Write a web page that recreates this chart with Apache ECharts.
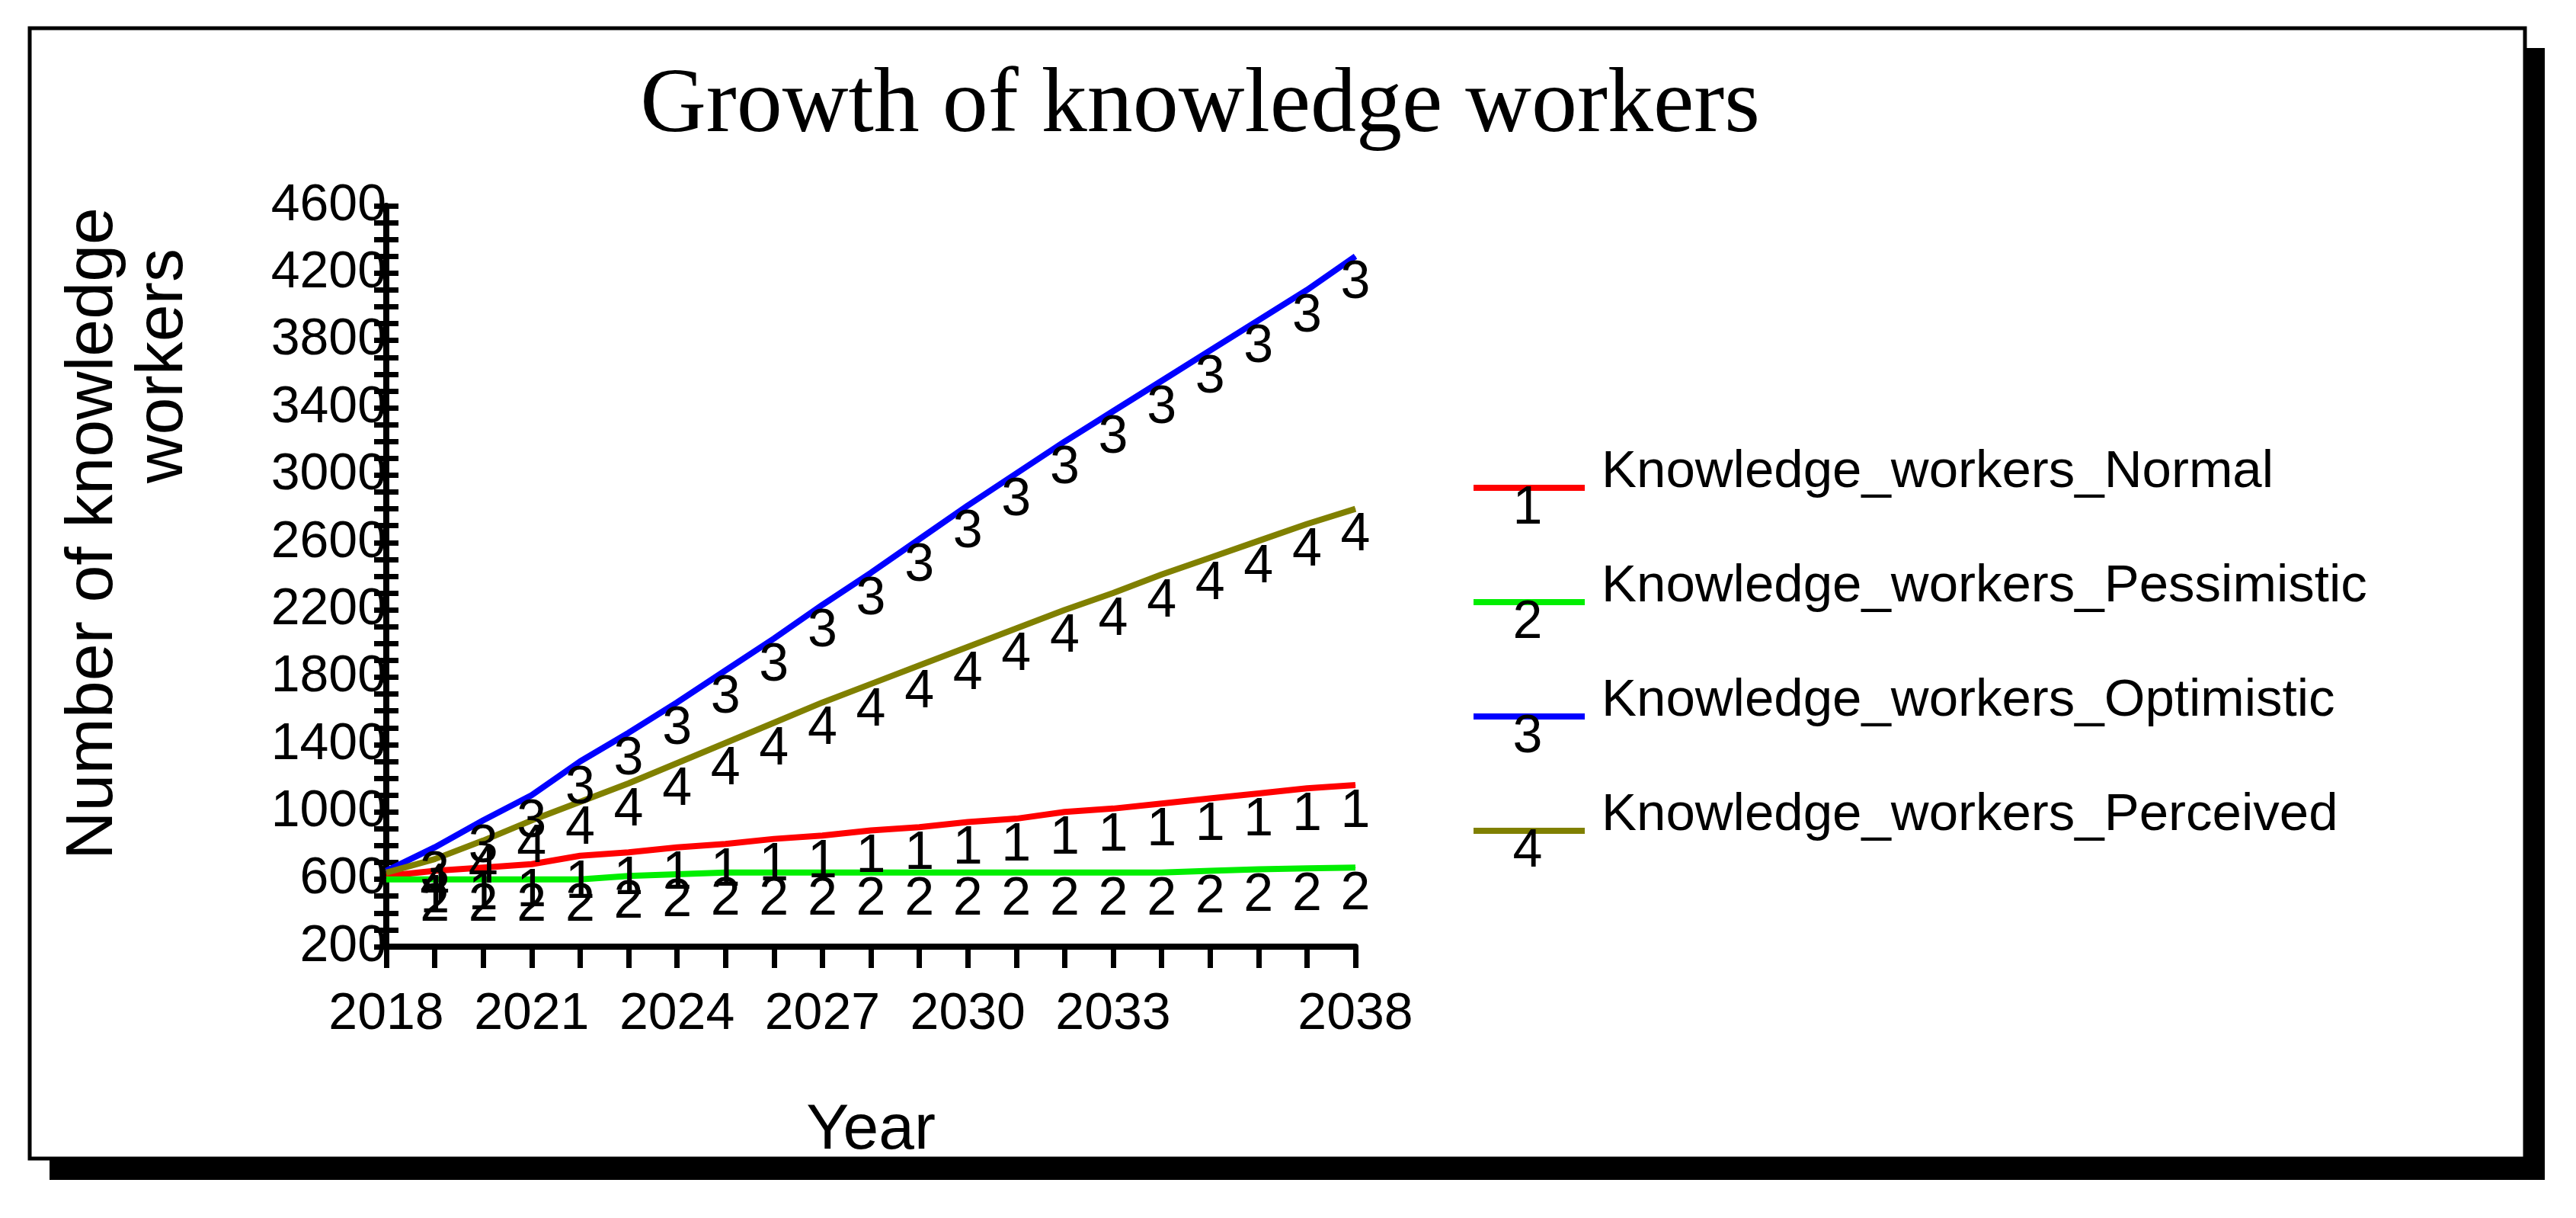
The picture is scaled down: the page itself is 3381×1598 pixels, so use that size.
<!DOCTYPE html>
<html><head><meta charset="utf-8">
<script src="https://cdn.jsdelivr.net/npm/echarts@6/dist/echarts.min.js"></script>
<style>html,body{margin:0;background:#fff}#c{width:3381px;height:1598px}</style>
</head><body><div id="c"></div>
<script>
const years = ['2018','2019','2020','2021','2022','2023','2024','2025','2026','2027','2028','2029','2030','2031','2032','2033','2034','2035','2036','2037','2038'];
const shownYears = ['2018','2021','2024','2027','2030','2033','2038'];
const normal = [620,650,670,690,740,760,790,810,840,860,890,910,940,960,1000,1020,1050,1080,1110,1140,1160];
const pessimistic = [600,600,600,600,600,620,630,640,640,640,640,640,640,640,640,640,640,650,660,665,670];
const optimistic = [650,790,950,1100,1300,1470,1650,1840,2030,2230,2420,2620,2820,3010,3200,3380,3560,3740,3920,4100,4300];
const perceived = [640,720,830,950,1060,1170,1290,1410,1530,1650,1760,1870,1980,2090,2200,2300,2410,2510,2610,2710,2800];
const names = ['Knowledge_workers_Normal','Knowledge_workers_Pessimistic','Knowledge_workers_Optimistic','Knowledge_workers_Perceived'];
const colors = ['#ff0000','#00ee00','#0000ff','#808000'];
const seriesData = [normal, pessimistic, optimistic, perceived];

const chart = echarts.init(document.getElementById('c'));
const FONT = 'Liberation Sans, Arial, sans-serif';
const legendGraphics = [];
names.forEach((n,i)=>{
  const y = 640 + i*150;
  legendGraphics.push({type:'line',shape:{x1:1934,y1:y,x2:2080,y2:y},style:{stroke:colors[i],lineWidth:8},z:10});
  legendGraphics.push({type:'text',x:2005,y:y+28,style:{text:String(i+1),fill:'#000',font:'70px '+FONT,textAlign:'center',textVerticalAlign:'middle'},z:11});
  legendGraphics.push({type:'text',x:2102,y:y-20,style:{text:n,fill:'#000',font:'69px '+FONT,textAlign:'left',textVerticalAlign:'middle'},z:11});
});
chart.setOption({
  animation:false,
  backgroundColor:'#fff',
  title:{text:'Growth of knowledge workers',left:1570,top:75,textAlign:'center',
    textStyle:{fontFamily:'Liberation Serif, Times New Roman, serif',fontSize:120,fontWeight:'normal',color:'#000'}},
  graphic:[
    {type:'rect',shape:{x:65,y:63,width:3275,height:1485},style:{fill:'#000'},z:-2},
    {type:'rect',shape:{x:39,y:37,width:3275,height:1483},style:{fill:'#fff',stroke:'#000',lineWidth:5},z:-1},
    {type:'text',x:123,y:700,rotation:Math.PI/2,style:{text:'Number of knowledge',font:'88px '+FONT,fill:'#000',textAlign:'center',textVerticalAlign:'middle'}},
    {type:'text',x:215,y:480,rotation:Math.PI/2,style:{text:'workers',font:'88px '+FONT,fill:'#000',textAlign:'center',textVerticalAlign:'middle'}},
    ...legendGraphics
  ],
  grid:{left:507,top:270,width:1272,height:972,containLabel:false},
  xAxis:{type:'category',data:years,boundaryGap:false,
    name:'Year',nameLocation:'middle',nameGap:200,nameTextStyle:{fontFamily:FONT,fontSize:84,color:'#000'},
    axisLine:{lineStyle:{color:'#000',width:8}},
    axisTick:{show:true,interval:0,length:28,lineStyle:{color:'#000',width:7}},
    axisLabel:{interval:(i,v)=>shownYears.includes(v),margin:55,fontFamily:FONT,fontSize:68,color:'#000'},
    splitLine:{show:false}},
  yAxis:[{type:'value',min:200,max:4600,interval:400,
    axisLine:{show:true,lineStyle:{color:'#000',width:8}},
    axisTick:{show:true,length:16,lineStyle:{color:'#000',width:7}},
    minorTick:{show:true,splitNumber:4,length:16,lineStyle:{color:'#000',width:7}},
    axisLabel:{margin:0,fontFamily:FONT,fontSize:68,color:'#000',formatter:v=>String(v)},
    splitLine:{show:false}},
    {type:'value',min:200,max:4600,interval:400,position:'left',
    axisLine:{show:false},
    axisTick:{show:true,inside:true,length:16,lineStyle:{color:'#000',width:7}},
    minorTick:{show:true,splitNumber:4,length:16,lineStyle:{color:'#000',width:7}},
    axisLabel:{show:false},splitLine:{show:false}}],
  series: seriesData.map((d,i)=>({
    type:'line',name:names[i],data:d,showSymbol:true,symbol:'circle',symbolSize:1,
    itemStyle:{color:colors[i]},
    lineStyle:{color:colors[i],width:8},z:5,
    label:{show:true,position:'bottom',distance:0,offset:[14,-6],formatter:p=>p.dataIndex===0?'':String(i+1),
      fontFamily:FONT,fontSize:70,color:'#000'},
    labelLayout:{hideOverlap:false}
  }))
});
</script></body></html>
